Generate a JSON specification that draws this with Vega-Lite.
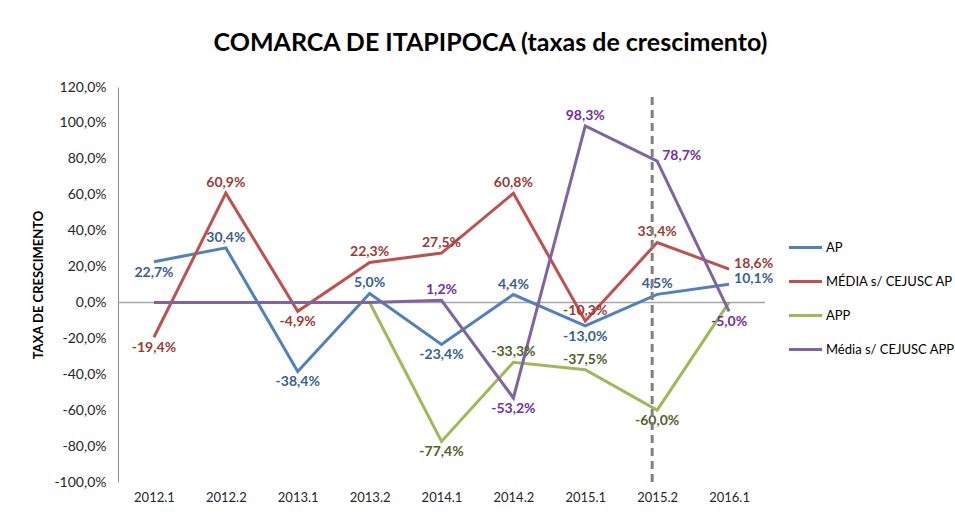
{
  "$schema": "https://vega.github.io/schema/vega-lite/v6.json",
  "width": 647,
  "height": 395,
  "autosize": "none",
  "padding": {"left": 118, "top": 87, "right": 190, "bottom": 39},
  "background": "white",
  "config": {
    "view": {"stroke": null},
    "font": "Lato",
    "locale": {"number": {"decimal": ",", "thousands": ".", "grouping": [3], "currency": ["R$", ""], "minus": "-"}}
  },
  "title": {
    "text": "COMARCA DE ITAPIPOCA (taxas de crescimento)",
    "font": "Lato",
    "fontSize": 25,
    "fontWeight": "bold",
    "color": "#000000",
    "anchor": "middle",
    "frame": "group",
    "dx": 49,
    "offset": 24
  },
  "data": {
    "values": [
      {"serie": "AP", "periodo": "2012.1", "valor": 0.227},
      {"serie": "AP", "periodo": "2012.2", "valor": 0.304},
      {"serie": "AP", "periodo": "2013.1", "valor": -0.384},
      {"serie": "AP", "periodo": "2013.2", "valor": 0.05},
      {"serie": "AP", "periodo": "2014.1", "valor": -0.234},
      {"serie": "AP", "periodo": "2014.2", "valor": 0.044},
      {"serie": "AP", "periodo": "2015.1", "valor": -0.13},
      {"serie": "AP", "periodo": "2015.2", "valor": 0.045},
      {"serie": "AP", "periodo": "2016.1", "valor": 0.101},
      {"serie": "MÉDIA s/ CEJUSC AP", "periodo": "2012.1", "valor": -0.194},
      {"serie": "MÉDIA s/ CEJUSC AP", "periodo": "2012.2", "valor": 0.609},
      {"serie": "MÉDIA s/ CEJUSC AP", "periodo": "2013.1", "valor": -0.049},
      {"serie": "MÉDIA s/ CEJUSC AP", "periodo": "2013.2", "valor": 0.223},
      {"serie": "MÉDIA s/ CEJUSC AP", "periodo": "2014.1", "valor": 0.275},
      {"serie": "MÉDIA s/ CEJUSC AP", "periodo": "2014.2", "valor": 0.608},
      {"serie": "MÉDIA s/ CEJUSC AP", "periodo": "2015.1", "valor": -0.103},
      {"serie": "MÉDIA s/ CEJUSC AP", "periodo": "2015.2", "valor": 0.334},
      {"serie": "MÉDIA s/ CEJUSC AP", "periodo": "2016.1", "valor": 0.186},
      {"serie": "APP", "periodo": "2013.2", "valor": 0},
      {"serie": "APP", "periodo": "2014.1", "valor": -0.774},
      {"serie": "APP", "periodo": "2014.2", "valor": -0.333},
      {"serie": "APP", "periodo": "2015.1", "valor": -0.375},
      {"serie": "APP", "periodo": "2015.2", "valor": -0.6},
      {"serie": "APP", "periodo": "2016.1", "valor": 0},
      {"serie": "Média s/ CEJUSC APP", "periodo": "2012.1", "valor": 0},
      {"serie": "Média s/ CEJUSC APP", "periodo": "2012.2", "valor": 0},
      {"serie": "Média s/ CEJUSC APP", "periodo": "2013.1", "valor": 0},
      {"serie": "Média s/ CEJUSC APP", "periodo": "2013.2", "valor": 0},
      {"serie": "Média s/ CEJUSC APP", "periodo": "2014.1", "valor": 0.012},
      {"serie": "Média s/ CEJUSC APP", "periodo": "2014.2", "valor": -0.532},
      {"serie": "Média s/ CEJUSC APP", "periodo": "2015.1", "valor": 0.983},
      {"serie": "Média s/ CEJUSC APP", "periodo": "2015.2", "valor": 0.787},
      {"serie": "Média s/ CEJUSC APP", "periodo": "2016.1", "valor": -0.05}
    ]
  },
  "encoding": {
    "x": {
      "field": "periodo",
      "type": "ordinal",
      "scale": {"type": "point", "padding": 0.5},
      "axis": {
        "title": null,
        "labelAngle": 0,
        "domain": false,
        "ticks": false,
        "labelPadding": 9,
        "labelFontSize": 13,
        "labelColor": "#262626",
        "labelFont": "Lato"
      }
    },
    "y": {
      "field": "valor",
      "type": "quantitative",
      "scale": {"domain": [-1, 1.2], "nice": false, "zero": false},
      "axis": {
        "title": "TAXA DE CRESCIMENTO",
        "titleFontSize": 13,
        "titleFontWeight": "bold",
        "titleColor": "#000000",
        "titleFont": "Lato",
        "titlePadding": 8,
        "values": [-1, -0.8, -0.6, -0.4, -0.2, 0, 0.2, 0.4, 0.6, 0.8, 1, 1.2],
        "format": ".1%",
        "grid": false,
        "ticks": false,
        "labelOverlap": false,
        "domainColor": "#8c8c8c",
        "labelPadding": 12,
        "labelFontSize": 14,
        "labelColor": "#262626",
        "labelFont": "Lato"
      }
    }
  },
  "layer": [
    {
      "data": {"values": [{"valor": 0}]},
      "mark": {"type": "rule", "color": "#a6a6a6", "strokeWidth": 1.5},
      "encoding": {"x": null}
    },
    {
      "mark": {"type": "line", "strokeWidth": 3},
      "encoding": {
        "color": {
          "field": "serie",
          "type": "nominal",
          "scale": {
            "domain": ["AP", "MÉDIA s/ CEJUSC AP", "APP", "Média s/ CEJUSC APP"],
            "range": ["#4f81bd", "#c0504d", "#9bbb59", "#8064a2"]
          },
          "legend": {
            "title": null,
            "orient": "none",
            "legendX": 669,
            "legendY": 142,
            "symbolType": "stroke",
            "symbolSize": 1100,
            "symbolStrokeWidth": 3,
            "labelFontSize": 13,
            "labelFont": "Lato",
            "labelColor": "#000000",
            "labelOffset": 2,
            "rowPadding": 8
          }
        }
      }
    },
    {
      "transform": [{"filter": "(datum.serie=='AP' && indexof(['2012.2','2013.2','2014.2','2015.2'],datum.periodo)>=0) || (datum.serie=='MÉDIA s/ CEJUSC AP' && indexof(['2012.2','2013.2','2014.1','2014.2','2015.1','2015.2'],datum.periodo)>=0) || (datum.serie=='APP' && indexof(['2014.2','2015.1'],datum.periodo)>=0) || (datum.serie=='Média s/ CEJUSC APP' && indexof(['2014.1','2015.1'],datum.periodo)>=0)"}],
      "mark": {"type": "text", "baseline": "middle", "dy": -10, "fontSize": 14, "fontWeight": "bold", "font": "Lato"},
      "encoding": {
        "text": {"field": "valor", "type": "quantitative", "format": ".1%"},
        "fill": {
          "field": "serie",
          "type": "nominal",
          "scale": {
            "domain": ["AP", "MÉDIA s/ CEJUSC AP", "APP", "Média s/ CEJUSC APP"],
            "range": ["#376092", "#9c3a36", "#4f6228", "#7030a0"]
          },
          "legend": null
        }
      }
    },
    {
      "transform": [{"filter": "(datum.serie=='AP' && indexof(['2012.1','2013.1','2014.1','2015.1'],datum.periodo)>=0) || (datum.serie=='MÉDIA s/ CEJUSC AP' && indexof(['2012.1','2013.1'],datum.periodo)>=0) || (datum.serie=='APP' && indexof(['2014.1','2015.2'],datum.periodo)>=0) || (datum.serie=='Média s/ CEJUSC APP' && indexof(['2014.2','2016.1'],datum.periodo)>=0)"}],
      "mark": {"type": "text", "baseline": "middle", "dy": 11, "fontSize": 14, "fontWeight": "bold", "font": "Lato"},
      "encoding": {
        "text": {"field": "valor", "type": "quantitative", "format": ".1%"},
        "fill": {"field": "serie", "type": "nominal", "legend": null}
      }
    },
    {
      "transform": [{"filter": "(datum.serie=='AP' && datum.periodo=='2016.1') || (datum.serie=='MÉDIA s/ CEJUSC AP' && datum.periodo=='2016.1') || (datum.serie=='Média s/ CEJUSC APP' && datum.periodo=='2015.2')"}],
      "mark": {"type": "text", "baseline": "middle", "align": "left", "dx": 5, "dy": -5, "fontSize": 14, "fontWeight": "bold", "font": "Lato"},
      "encoding": {
        "text": {"field": "valor", "type": "quantitative", "format": ".1%"},
        "fill": {"field": "serie", "type": "nominal", "legend": null}
      }
    },
    {
      "data": {"values": [{"periodo": "2015.2", "valor": 1.145, "fim": -1}]},
      "mark": {"type": "rule", "color": "#808080", "strokeWidth": 3, "strokeDash": [8, 5], "xOffset": -5},
      "encoding": {
        "y2": {"field": "fim"}
      }
    }
  ]
}
